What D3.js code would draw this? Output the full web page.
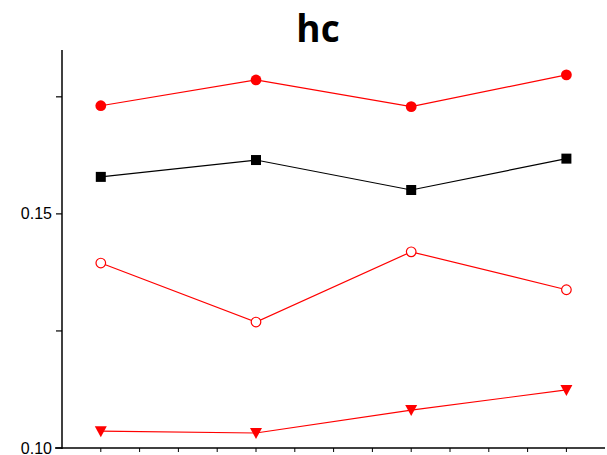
<!DOCTYPE html>
<html><head><meta charset="utf-8">
<script src="https://cdn.jsdelivr.net/npm/d3@7"></script>
<style>body{margin:0;background:#fff}</style>
</head><body>
<svg id="c" width="607" height="455"></svg>
<script>
const categories = [1, 2, 3, 4];
const filledCircle = [0.1731, 0.1786, 0.1729, 0.1797];
const squares = [0.1579, 0.1615, 0.1551, 0.1618];
const openCircle = [0.1395, 0.1269, 0.1419, 0.1338];
const triangles = [0.1036, 0.1032, 0.1081, 0.1124];
const yTickLabels = ["0.10", "0.15"];
const yMajor = [0.10, 0.15];
const yMinor = [0.125, 0.175];

const svg = d3.select("#c");
const x = d3.scaleLinear().domain([0.75, 4.5]).range([62, 644]);
const y = d3.scaleLinear().domain([0.10, 0.185]).range([448, 50]);

// title
svg.append("text").attr("x", 318).attr("y", 42).attr("text-anchor", "middle")
  .attr("font-family", "Open Sans").attr("font-weight", "bold").attr("font-size", 37)
  .attr("fill", "#000").text("hc");

// axes
svg.append("line").attr("x1", 62).attr("x2", 62).attr("y1", y(0.185)).attr("y2", 449)
  .attr("stroke", "#000").attr("stroke-width", 1.5);
svg.append("line").attr("x1", 55).attr("x2", 605).attr("y1", 448).attr("y2", 448)
  .attr("stroke", "#000").attr("stroke-width", 1.5);

// y ticks
yMajor.concat(yMinor).forEach(v => {
  svg.append("line").attr("x1", 56).attr("x2", 62).attr("y1", y(v)).attr("y2", y(v))
    .attr("stroke", "#000").attr("stroke-width", 1.2);
});
yMajor.forEach((v, i) => {
  svg.append("text").attr("x", 52).attr("y", y(v)).attr("dy", "0.35em")
    .attr("text-anchor", "end").attr("font-family", "Liberation Sans, Arial")
    .attr("font-size", 16).attr("fill", "#000").text(yTickLabels[i]);
});

// x ticks (major at categories, minor quarters)
const xt = d3.range(1, 4.01, 0.25);
xt.forEach(v => {
  svg.append("line").attr("x1", x(v)).attr("x2", x(v)).attr("y1", 448).attr("y2", 452)
    .attr("stroke", "#000").attr("stroke-width", 1);
});

const line = d3.line().x((d, i) => x(categories[i])).y(d => y(d));

function series(vals, color, marker) {
  svg.append("path").attr("d", line(vals)).attr("fill", "none")
    .attr("stroke", color).attr("stroke-width", 1.2);
  vals.forEach((v, i) => {
    const cx = x(categories[i]), cy = y(v);
    if (marker === "circle") {
      svg.append("circle").attr("cx", cx).attr("cy", cy).attr("r", 5.4).attr("fill", color);
    } else if (marker === "open") {
      svg.append("circle").attr("cx", cx).attr("cy", cy).attr("r", 4.8)
        .attr("fill", "#fff").attr("stroke", color).attr("stroke-width", 1.2);
    } else if (marker === "square") {
      svg.append("rect").attr("x", cx - 5).attr("y", cy - 5).attr("width", 10).attr("height", 10).attr("fill", color);
    } else if (marker === "tri") {
      svg.append("path").attr("d", `M${cx - 6},${cy - 5} L${cx + 6},${cy - 5} L${cx},${cy + 6} Z`).attr("fill", color);
    }
  });
}
series(filledCircle, "#ff0000", "circle");
series(squares, "#000000", "square");
series(openCircle, "#ff0000", "open");
series(triangles, "#ff0000", "tri");
</script>
</body></html>
